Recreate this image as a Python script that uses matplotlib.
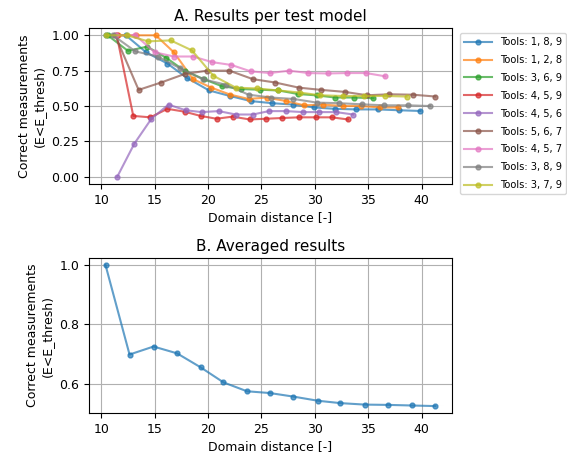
import matplotlib
matplotlib.use("Agg")
import matplotlib.pyplot as plt
from matplotlib.ticker import MultipleLocator

# per-model results (domain distance, fraction of correct measurements)
labels = ["Tools: 1, 8, 9", "Tools: 1, 2, 8", "Tools: 3, 6, 9", "Tools: 4, 5, 9",
          "Tools: 4, 5, 6", "Tools: 5, 6, 7", "Tools: 4, 5, 7", "Tools: 3, 8, 9",
          "Tools: 3, 7, 9"]

x_189 = [10.4, 12.3, 14.2, 16.2, 18.0, 20.1, 22.1, 24.0, 26.0, 28.0, 29.9, 31.9, 33.9, 35.9, 37.9, 39.9]
y_189 = [1.0, 1.0, 0.88, 0.80, 0.70, 0.61, 0.57, 0.535, 0.52, 0.51, 0.49, 0.48, 0.476, 0.476, 0.47, 0.465]

x_128 = [11.6, 13.3, 15.1, 16.8, 18.6, 20.3, 22.1, 23.8, 25.5, 27.3, 29.0, 30.8, 32.6, 34.3, 36.1, 37.8]
y_128 = [1.0, 1.0, 1.0, 0.88, 0.69, 0.63, 0.58, 0.55, 0.56, 0.535, 0.505, 0.51, 0.50, 0.50, 0.49, 0.49]

x_369 = [10.6, 12.5, 14.3, 16.1, 17.8, 19.6, 21.3, 23.1, 24.9, 26.6, 28.4, 30.2, 31.9, 33.7, 35.5]
y_369 = [1.0, 0.89, 0.92, 0.84, 0.75, 0.69, 0.64, 0.62, 0.615, 0.61, 0.585, 0.575, 0.56, 0.56, 0.555]

x_459 = [11.45, 13.0, 14.6, 16.2, 17.8, 19.3, 20.8, 22.3, 23.9, 25.4, 26.9, 28.5, 30.1, 31.6, 33.1]
y_459 = [1.0, 0.43, 0.42, 0.48, 0.46, 0.43, 0.41, 0.425, 0.405, 0.41, 0.415, 0.42, 0.42, 0.42, 0.405]

x_456 = [11.5, 13.1, 14.7, 16.3, 17.9, 19.4, 21.0, 22.6, 24.2, 25.7, 27.3, 28.9, 30.4, 32.0, 33.6]
y_456 = [0.0, 0.234, 0.41, 0.51, 0.47, 0.457, 0.464, 0.44, 0.44, 0.464, 0.464, 0.457, 0.457, 0.457, 0.44]

x_567 = [11.3, 13.5, 15.6, 17.8, 19.9, 22.0, 24.2, 26.3, 28.5, 30.6, 32.8, 34.9, 37.0, 39.2, 41.3]
y_567 = [1.0, 0.614, 0.666, 0.726, 0.75, 0.75, 0.69, 0.666, 0.63, 0.614, 0.60, 0.576, 0.583, 0.58, 0.567]

x_457 = [11.4, 13.2, 15.0, 16.8, 18.6, 20.4, 22.2, 24.0, 25.8, 27.6, 29.4, 31.2, 33.0, 34.8, 36.6]
y_457 = [1.0, 1.0, 0.88, 0.85, 0.85, 0.81, 0.79, 0.745, 0.733, 0.75, 0.733, 0.73, 0.733, 0.733, 0.71]

x_389 = [11.1, 13.2, 15.3, 17.4, 19.5, 21.7, 23.8, 25.9, 28.0, 30.2, 32.3, 34.4, 36.5, 38.7, 40.8]
y_389 = [1.0, 0.886, 0.85, 0.766, 0.69, 0.65, 0.58, 0.56, 0.55, 0.524, 0.52, 0.512, 0.505, 0.505, 0.50]

x_379 = [10.4, 12.4, 14.4, 16.5, 18.5, 20.5, 22.6, 24.6, 26.6, 28.6, 30.5, 32.6, 34.6, 36.6, 38.6]
y_379 = [1.0, 1.0, 0.957, 0.964, 0.893, 0.714, 0.63, 0.624, 0.61, 0.595, 0.576, 0.571, 0.571, 0.571, 0.567]

# averaged over all models
x_avg = [10.4, 12.65, 14.9, 17.1, 19.3, 21.45, 23.65, 25.8, 28.0, 30.3, 32.4, 34.7, 36.9, 39.1, 41.3]
y_avg = [1.0, 0.698, 0.725, 0.702, 0.655, 0.604, 0.574, 0.568, 0.556, 0.542, 0.534, 0.529, 0.528, 0.526, 0.524]

series = [(x_189, y_189), (x_128, y_128), (x_369, y_369), (x_459, y_459), (x_456, y_456),
          (x_567, y_567), (x_457, y_457), (x_389, y_389), (x_379, y_379)]

ylabel = "Correct measurements\n(E<E_thresh)"

plt.rcParams["font.size"] = 9
plt.rcParams["axes.titlesize"] = 11

fig = plt.figure(figsize=(5.67, 4.55), dpi=100)
ax1 = fig.add_axes([0.157, 0.596, 0.640, 0.342])
ax2 = fig.add_axes([0.157, 0.092, 0.640, 0.341])

for (xs, ys), lab in zip(series, labels):
    ax1.plot(xs, ys, "-o", linewidth=1.5, markersize=3.5, alpha=0.7, label=lab)
ax1.set_title("A. Results per test model", pad=5)
ax1.set_xlabel("Domain distance [-]", labelpad=3)
ax1.set_ylabel(ylabel)
ax1.xaxis.set_major_locator(MultipleLocator(5))
ax1.yaxis.set_major_locator(MultipleLocator(0.25))
ax1.grid(True)
ax1.legend(loc="upper left", bbox_to_anchor=(1.01, 1.0), fontsize=7.1,
           handlelength=2.8, labelspacing=0.8)

ax2.plot(x_avg, y_avg, "-o", linewidth=1.5, markersize=3.5, alpha=0.7)
ax2.set_title("B. Averaged results", pad=5)
ax2.set_xlabel("Domain distance [-]", labelpad=3)
ax2.set_ylabel(ylabel)
ax2.xaxis.set_major_locator(MultipleLocator(5))
ax2.yaxis.set_major_locator(MultipleLocator(0.2))
ax2.grid(True)

fig.savefig("out.png", dpi=100)
plt.close(fig)
